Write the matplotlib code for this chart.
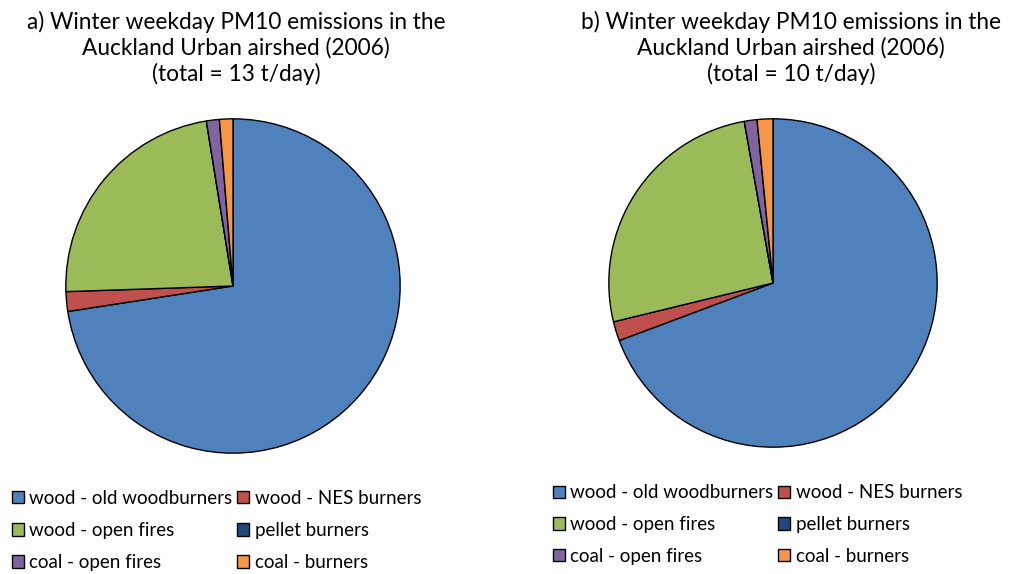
import numpy as np
import matplotlib
matplotlib.use('Agg')
import matplotlib.pyplot as plt

plt.rcParams['font.family'] = ['Lato', 'DejaVu Sans']

sources = ['wood - old woodburners', 'wood - NES burners', 'wood - open fires',
           'pellet burners', 'coal - open fires', 'coal - burners']
colours = ['#4F81BD', '#C0504D', '#9BBB59', '#1F497D', '#8064A2', '#F79646']

# share of PM10 emissions (%)
share_a = [72.6, 1.9, 23.0, 0.0, 1.25, 1.3]
share_b = [69.3, 1.9, 26.0, 0.0, 1.25, 1.55]

title_a = 'a) Winter weekday PM10 emissions in the\nAuckland Urban airshed (2006)\n(total = 13 t/day)'
title_b = 'b) Winter weekday PM10 emissions in the\nAuckland Urban airshed (2006)\n(total = 10 t/day)'

W, H = 1009, 574
fig = plt.figure(figsize=(W/100, H/100), dpi=100)


def draw(cx, cy, r, vals, title, tx, legy, legx, lsp):
    ax = fig.add_axes([(cx-r)/W, (H-cy-r)/H, 2*r/W, 2*r/H])
    wedges, _ = ax.pie(vals, colors=colours, startangle=90, counterclock=False,
                       wedgeprops=dict(edgecolor='black', linewidth=1.0))
    ax.set_xlim(-1.005, 1.005)
    ax.set_ylim(-1.005, 1.005)
    ax.axis('off')
    fig.text(tx/W, 1-11/H, title, ha='center', va='top', fontsize=16.3,
             linespacing=1.22)
    order = [0, 2, 4, 1, 3, 5]
    fig.legend([wedges[i] for i in order], [sources[i] for i in order],
               ncol=2, loc='upper left', bbox_to_anchor=(legx/W, 1-legy/H),
               frameon=False, fontsize=13.5, handlelength=0.65, handleheight=0.65,
               handletextpad=0.3, columnspacing=0.25, labelspacing=lsp,
               borderaxespad=0)
    return ax


draw(233, 286, 168, share_a, title_a, 236, 482, 4, 0.82)
draw(773, 283, 165, share_b, title_b, 791, 477, 545, 0.78)

fig.savefig('out.png', dpi=100)
